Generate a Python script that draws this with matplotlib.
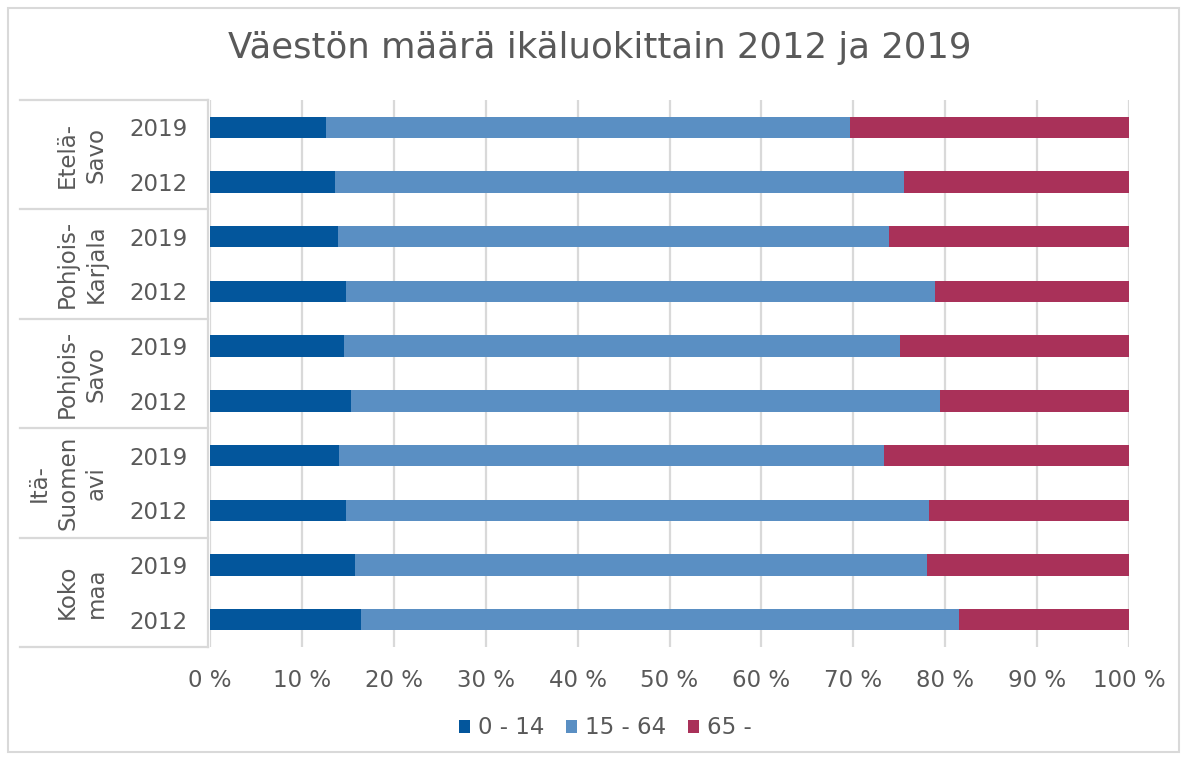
import numpy as np
import matplotlib
matplotlib.use("Agg")
import matplotlib.pyplot as plt
from matplotlib.patches import Rectangle

# Tiedot luettu kuvasta (osuudet %)
alueet = ["Etelä-\nSavo", "Pohjois-\nKarjala", "Pohjois-\nSavo", "Itä-\nSuomen\navi", "Koko\nmaa"]
vuodet = ["2019", "2012"] * 5
ika_0_14 = [12.6, 13.6, 13.9, 14.8, 14.6, 15.3, 14.0, 14.8, 15.8, 16.4]
ika_15_64 = [57.0, 61.9, 60.0, 64.1, 60.5, 64.1, 59.3, 63.4, 62.2, 65.1]
ika_65 = [30.4, 24.5, 26.1, 21.1, 24.9, 20.6, 26.7, 21.8, 22.0, 18.5]
sarjat = ["0 - 14", "15 - 64", "65 -"]
varit = ["#03569C", "#5A8FC3", "#A93159"]
harmaa = "#595959"
viiva = "#D9D9D9"

plt.rcParams["font.family"] = ["DejaVu Sans"]

fig = plt.figure(figsize=(11.87, 7.6), dpi=100)
ax = fig.add_axes([210 / 1187, 1 - 647 / 760, 919 / 1187, 547 / 760])

y = np.arange(len(vuodet))
vasen = np.zeros(len(vuodet))
for arvot, nimi, vari in zip([ika_0_14, ika_15_64, ika_65], sarjat, varit):
    ax.barh(y, arvot, left=vasen, height=0.39, color=vari, label=nimi, zorder=3)
    vasen = vasen + np.array(arvot)

ax.set_xlim(0, 100)
ax.set_ylim(len(vuodet) - 0.5, -0.5)
ax.set_xticks(np.arange(0, 101, 10))
ax.set_xticklabels([f"{v} %" for v in range(0, 101, 10)])
ax.set_yticks(y)
ax.set_yticklabels(vuodet)
ax.tick_params(axis="both", length=0, labelsize=16.5, colors=harmaa)
ax.tick_params(axis="y", pad=16)
ax.tick_params(axis="x", pad=16)
ax.grid(axis="x", color=viiva, linewidth=1.6, zorder=0)
for s in ax.spines.values():
    s.set_visible(False)

# Ryhmäakselin viivat ja otsikot
tr = ax.get_yaxis_transform()
x0 = (20 - 210) / 919
x_akseli = (208 - 210) / 919
for k in range(len(alueet) + 1):
    ax.plot([x0, x_akseli], [k * 2 - 0.5, k * 2 - 0.5], transform=tr,
            color=viiva, lw=1.6, clip_on=False)
ax.plot([x_akseli, x_akseli], [-0.5, len(vuodet) - 0.5], transform=tr,
        color=viiva, lw=1.6, clip_on=False)
x_teksti = (108 - 210) / 919
for k, nimi in enumerate(alueet):
    ax.text(x_teksti, k * 2 + 0.5, nimi, transform=tr, rotation=90,
            ha="right", va="center", multialignment="center",
            fontsize=16.5, color=harmaa, linespacing=1.32)

fig.text(600 / 1187, 1 - 48 / 760, "Väestön määrä ikäluokittain 2012 ja 2019",
         ha="center", va="center", fontsize=25.6, color=harmaa)

ax.legend(loc="center", bbox_to_anchor=(605 / 1187, 1 - 728 / 760),
          bbox_transform=fig.transFigure, ncol=3, frameon=False,
          fontsize=16.5, labelcolor=harmaa, handlelength=0.48,
          handleheight=0.48, handletextpad=0.35, columnspacing=0.95)

fig.add_artist(Rectangle((8 / 1187, 8 / 760), 1171 / 1187, 744 / 760,
                         transform=fig.transFigure, fill=False,
                         edgecolor=viiva, lw=1.5))

fig.savefig("out.png", dpi=100)
